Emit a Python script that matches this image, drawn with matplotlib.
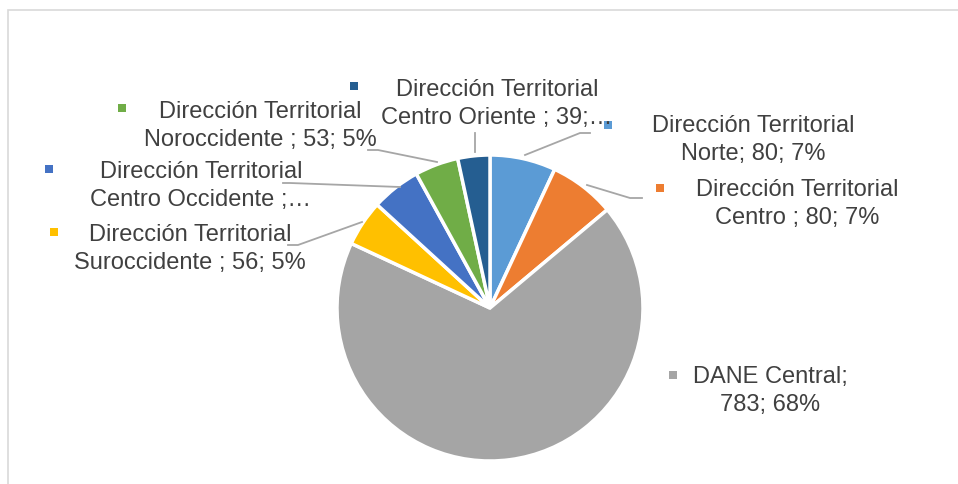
import matplotlib.pyplot as plt
from matplotlib.patches import Rectangle

# data (clockwise from 12 o'clock)
names = ['Norte', 'Centro', 'DANE Central', 'Suroccidente',
         'Centro Occidente', 'Noroccidente', 'Centro Oriente']
values = [80, 80, 783, 56, 60, 53, 39]
labels = ['Dirección Territorial\nNorte; 80; 7%',
          'Dirección Territorial\nCentro ; 80; 7%',
          'DANE Central;\n783; 68%',
          'Dirección Territorial\nSuroccidente ; 56; 5%',
          'Dirección Territorial\nCentro Occidente ;…',
          'Dirección Territorial\nNoroccidente ; 53; 5%',
          'Dirección Territorial\nCentro Oriente ; 39;…']
colors = ['#5B9BD5', '#ED7D31', '#A5A5A5', '#FFC000',
          '#4472C4', '#70AD47', '#255E91']

W, H = 958, 484
fig = plt.figure(figsize=(W / 100, H / 100), dpi=100)
ax = fig.add_axes([0, 0, 1, 1])


def Y(py):
    return H - py


ax.pie(values, colors=colors, startangle=90, counterclock=False,
       center=(490, Y(308)), radius=153,
       wedgeprops=dict(edgecolor='white', linewidth=2.5))
ax.set_xlim(0, W)
ax.set_ylim(0, H)
ax.set_aspect('auto')
ax.axis('off')

# chart border
ax.add_patch(Rectangle((8, Y(W)), 1000, Y(10) - Y(W), fill=False,
                       edgecolor='#D9D9D9', linewidth=1.2))

# label layout: text centre, marker position, leader line points (pixels)
text_pos = [(753, 140), (797, 204), (770, 391), (190, 249),
            (201, 186), (260, 126), (497, 104)]
mark_pos = [(608, 125), (660, 188), (673, 375), (54, 232),
            (49, 169), (122, 108), (354, 86)]
leaders = [[(525, 155), (580, 133), (590, 133)],
           [(587, 185), (630, 198), (642, 198)],
           None,
           [(362, 222), (298, 245), (288, 245)],
           [(400, 187), (290, 183), (283, 183)],
           [(437, 162), (378, 150), (368, 150)],
           [(475, 152), (475, 133)]]

for lab, col, tp, mp, ld in zip(labels, colors, text_pos, mark_pos, leaders):
    ax.text(tp[0], Y(tp[1]), lab, ha='center', va='center', fontsize=17,
            family='Liberation Sans', color='#404040', linespacing=1.3)
    ax.plot(mp[0], Y(mp[1]), marker='s', markersize=5.5, color=col,
            markeredgewidth=0)
    if ld:
        ax.plot([p[0] for p in ld], [Y(p[1]) for p in ld],
                color='#A6A6A6', linewidth=1.3)

plt.savefig('out.png', dpi=100, facecolor='white')
plt.close()
